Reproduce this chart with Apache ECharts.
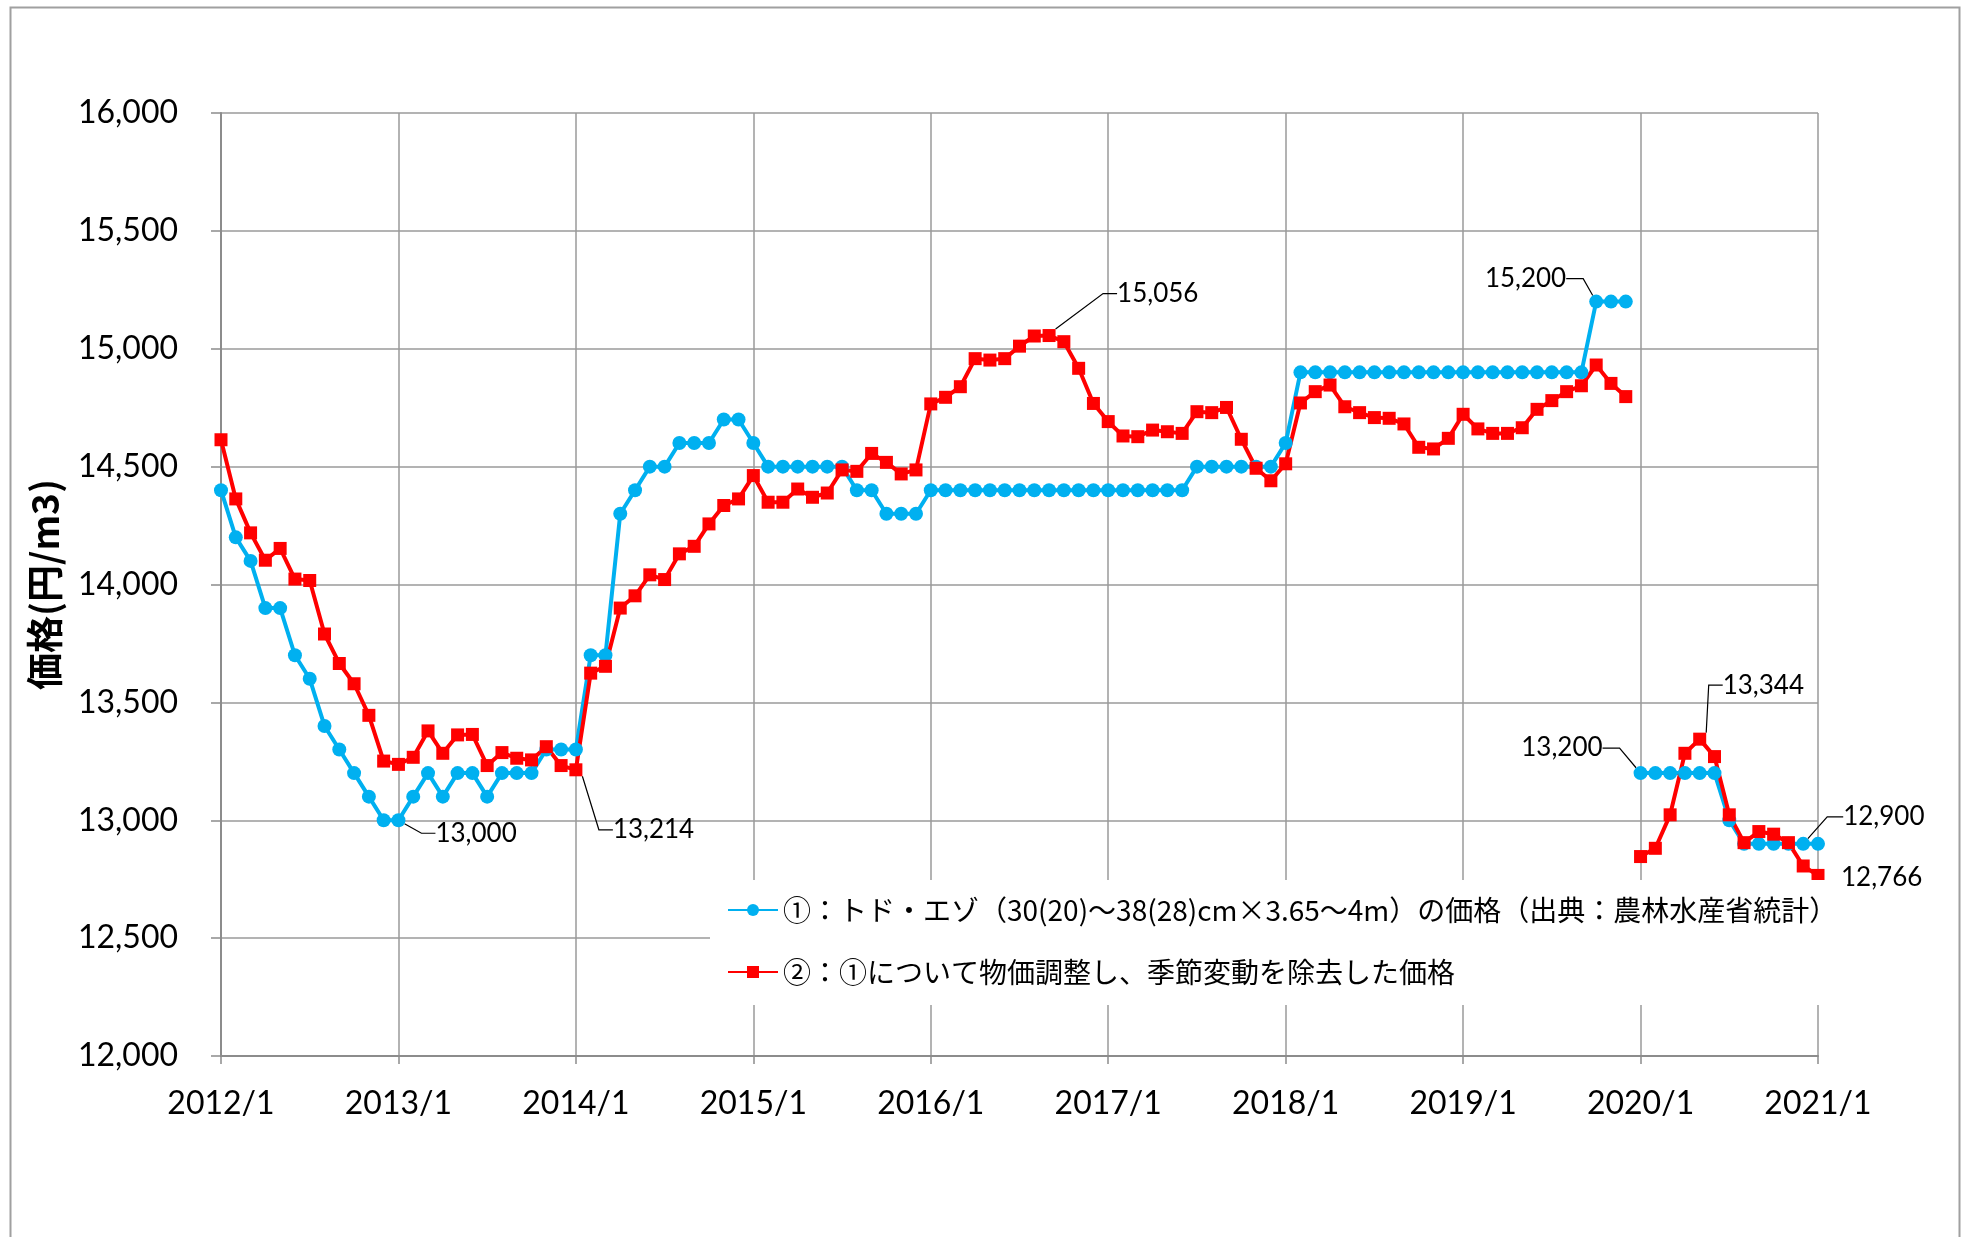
<!DOCTYPE html>
<html>
<head>
<meta charset="utf-8">
<script src="https://cdn.jsdelivr.net/npm/echarts@6/dist/echarts.min.js"></script>
<style>
html,body{margin:0;padding:0;background:#fff;}
#main{width:1966px;height:1237px;}
</style>
</head>
<body>
<div id="main"></div>
<script>
/////////////////////////////////データ///////////////////////////////////
// 月次カテゴリ（2012/1 ～ 2021/1）
const years = [2012, 2013, 2014, 2015, 2016, 2017, 2018, 2019, 2020, 2021];
const months = [];
for (let i = 0; i < years.length; i++) {
    for (let m = 1; m <= 12; m++) {
        months.push(years[i] + '/' + m);
        if (years[i] === 2021) break;
    }
}

// ①：トド・エゾ価格（2012/1～2019/12 と 2020/1～2021/1 は線がつながっていない）
const blue2012 = [14400, 14200, 14100, 13900, 13900, 13700, 13600, 13400, 13300, 13200, 13100, 13000];
const blue2013 = [13000, 13100, 13200, 13100, 13200, 13200, 13100, 13200, 13200, 13200, 13300, 13300];
const blue2014 = [13300, 13700, 13700, 14300, 14400, 14500, 14500, 14600, 14600, 14600, 14700, 14700];
const blue2015 = [14600, 14500, 14500, 14500, 14500, 14500, 14500, 14400, 14400, 14300, 14300, 14300];
const blue2016 = [14400, 14400, 14400, 14400, 14400, 14400, 14400, 14400, 14400, 14400, 14400, 14400];
const blue2017 = [14400, 14400, 14400, 14400, 14400, 14400, 14500, 14500, 14500, 14500, 14500, 14500];
const blue2018 = [14600, 14900, 14900, 14900, 14900, 14900, 14900, 14900, 14900, 14900, 14900, 14900];
const blue2019 = [14900, 14900, 14900, 14900, 14900, 14900, 14900, 14900, 14900, 15200, 15200, 15200];
const blue2020 = [13200, 13200, 13200, 13200, 13200, 13200, 13000, 12900, 12900, 12900, 12900, 12900, 12900];

// ②：物価調整・季節調整済み価格
const red2012 = [14614, 14363, 14219, 14103, 14153, 14023, 14017, 13790, 13665, 13579, 13445, 13251];
const red2013 = [13237, 13267, 13379, 13284, 13362, 13364, 13232, 13287, 13263, 13256, 13312, 13232];
const red2014 = [13214, 13624, 13653, 13900, 13952, 14041, 14021, 14130, 14162, 14257, 14335, 14363];
const red2015 = [14462, 14349, 14349, 14405, 14370, 14388, 14486, 14480, 14556, 14518, 14469, 14486];
const red2016 = [14766, 14794, 14839, 14958, 14952, 14958, 15011, 15054, 15056, 15030, 14917, 14768];
const red2017 = [14691, 14630, 14627, 14655, 14648, 14641, 14733, 14729, 14751, 14616, 14493, 14440];
const red2018 = [14512, 14770, 14818, 14846, 14754, 14729, 14708, 14705, 14681, 14582, 14575, 14620];
const red2019 = [14722, 14660, 14641, 14641, 14665, 14743, 14780, 14818, 14843, 14931, 14853, 14797];
const red2020 = [12846, 12881, 13023, 13284, 13344, 13270, 13023, 12905, 12952, 12941, 12905, 12806, 12766];

const legendNames = [
    '①：トド・エゾ（30(20)～38(28)cm×3.65～4m）の価格（出典：農林水産省統計）',
    '②：①について物価調整し、季節変動を除去した価格'
];

const blueFirst = [].concat(blue2012, blue2013, blue2014, blue2015, blue2016, blue2017, blue2018, blue2019);
const redFirst = [].concat(red2012, red2013, red2014, red2015, red2016, red2017, red2018, red2019);

// 値ラベル（引き出し線つき）の位置：idx=月の番号, side=文字の寄せ, dx/dy=点からのずれ, len=横線の長さ
const blueCallouts = [
    { idx: 12, side: 'left', dx: 29, dy: 13, len: 14 },
    { idx: 93, side: 'right', dx: -22, dy: -23, len: 17 },
    { idx: 96, side: 'right', dx: -30, dy: -25, len: 17 },
    { idx: 107, side: 'left', dx: 32, dy: -27, len: 16 }
];
const redCallouts = [
    { idx: 24, side: 'left', dx: 29, dy: 60, len: 14 },
    { idx: 56, side: 'left', dx: 60, dy: -42, len: 14 },
    { idx: 100, side: 'left', dx: 15, dy: -54, len: 14 },
    { idx: 108, side: 'left', dx: 15, dy: 2, len: 0 }
];

/////////////////////////////////系列生成///////////////////////////////////
function Build_data(values, start, callouts) {
    // 全カテゴリ分の配列を作り、値のない月は '-' にする
    let data = [];
    for (let i = 0; i < months.length; i++) {
        data.push('-');
    }
    for (let i = 0; i < values.length; i++) {
        data[start + i] = values[i];
    }
    for (let i = 0; i < callouts.length; i++) {
        let c = callouts[i];
        if (c.idx < start || c.idx >= start + values.length) continue;
        data[c.idx] = {
            value: data[c.idx],
            label: {
                show: true,
                position: 'inside',
                align: c.side,
                verticalAlign: 'middle',
                offset: [c.dx, c.dy],
                padding: c.side === 'left' ? [0, 0, 0, 8] : [0, 8, 0, 0],
                color: '#000',
                fontSize: 26,
                fontFamily: 'Lato',
                textBorderWidth: 0,
                formatter: function (p) {
                    return Number(p.value).toLocaleString('en-US');
                }
            },
            labelLine: {
                show: c.len > 0,
                length2: c.len,
                lineStyle: { color: '#000', width: 1.2 }
            }
        };
    }
    return data;
}

function Make_series(name, data, color, symbol, size) {
    return {
        name: name,
        type: 'line',
        data: data,
        symbol: symbol,
        symbolSize: size,
        showSymbol: true,
        showAllSymbol: true,
        connectNulls: false,
        lineStyle: { color: color, width: 4 },
        itemStyle: { color: color },
        labelLine: { show: false },
        emphasis: { disabled: true }
    };
}

let myseries = [
    Make_series(legendNames[0], Build_data(blueFirst, 0, blueCallouts), '#00B0F0', 'circle', 14),
    Make_series(legendNames[0], Build_data(blue2020, 96, blueCallouts), '#00B0F0', 'circle', 14),
    Make_series(legendNames[1], Build_data(redFirst, 0, redCallouts), '#FF0000', 'rect', 13),
    Make_series(legendNames[1], Build_data(red2020, 96, redCallouts), '#FF0000', 'rect', 13)
];

/////////////////////////////////グラフ///////////////////////////////////
let chart = echarts.init(document.getElementById('main'));
let gridColor = '#9a9a9a';
let option = {
    animation: false,
    backgroundColor: '#fff',
    graphic: [
        {
            type: 'rect',
            left: 8,
            top: 5,
            silent: true,
            shape: { width: 1949, height: 1300 },
            style: { fill: 'none', stroke: '#a0a0a0', lineWidth: 2 }
        }
    ],
    grid: {
        left: 221,
        right: 148,
        top: 113,
        bottom: 181
    },
    legend: {
        data: legendNames,
        orient: 'vertical',
        left: 710,
        top: 880,
        padding: [15, 10, 18, 17],
        backgroundColor: '#fff',
        itemWidth: 50,
        itemHeight: 15,
        itemGap: 32,
        selectedMode: false,
        textStyle: {
            fontSize: 28,
            lineHeight: 30,
            color: '#000',
            fontFamily: 'Noto Sans CJK JP'
        }
    },
    xAxis: {
        type: 'category',
        data: months,
        boundaryGap: false,
        axisLine: { lineStyle: { color: '#8c8c8c', width: 2 } },
        axisTick: { show: true, interval: 11, length: 8, lineStyle: { color: '#8c8c8c', width: 1.5 } },
        axisLabel: {
            interval: 11,
            margin: 32,
            color: '#000',
            fontSize: 32,
            fontFamily: 'Lato'
        },
        splitLine: { show: true, interval: 11, lineStyle: { color: gridColor, width: 1.5 } }
    },
    yAxis: {
        type: 'value',
        min: 12000,
        max: 16000,
        interval: 500,
        name: '価格(円/m3)',
        nameLocation: 'middle',
        nameRotate: 90,
        nameGap: 158,
        nameTextStyle: {
            fontSize: 37,
            fontWeight: 'bold',
            color: '#000',
            fontFamily: 'Noto Sans CJK JP'
        },
        axisLine: { show: true, lineStyle: { color: '#8c8c8c', width: 2 } },
        axisTick: { show: true, length: 10, lineStyle: { color: '#8c8c8c', width: 1.5 } },
        axisLabel: {
            margin: 43,
            color: '#000',
            fontSize: 32,
            fontFamily: 'Lato',
            formatter: function (v) {
                return v.toLocaleString('en-US');
            }
        },
        splitLine: { show: true, lineStyle: { color: gridColor, width: 1.5 } }
    },
    series: myseries
};
chart.setOption(option);
</script>
</body>
</html>
